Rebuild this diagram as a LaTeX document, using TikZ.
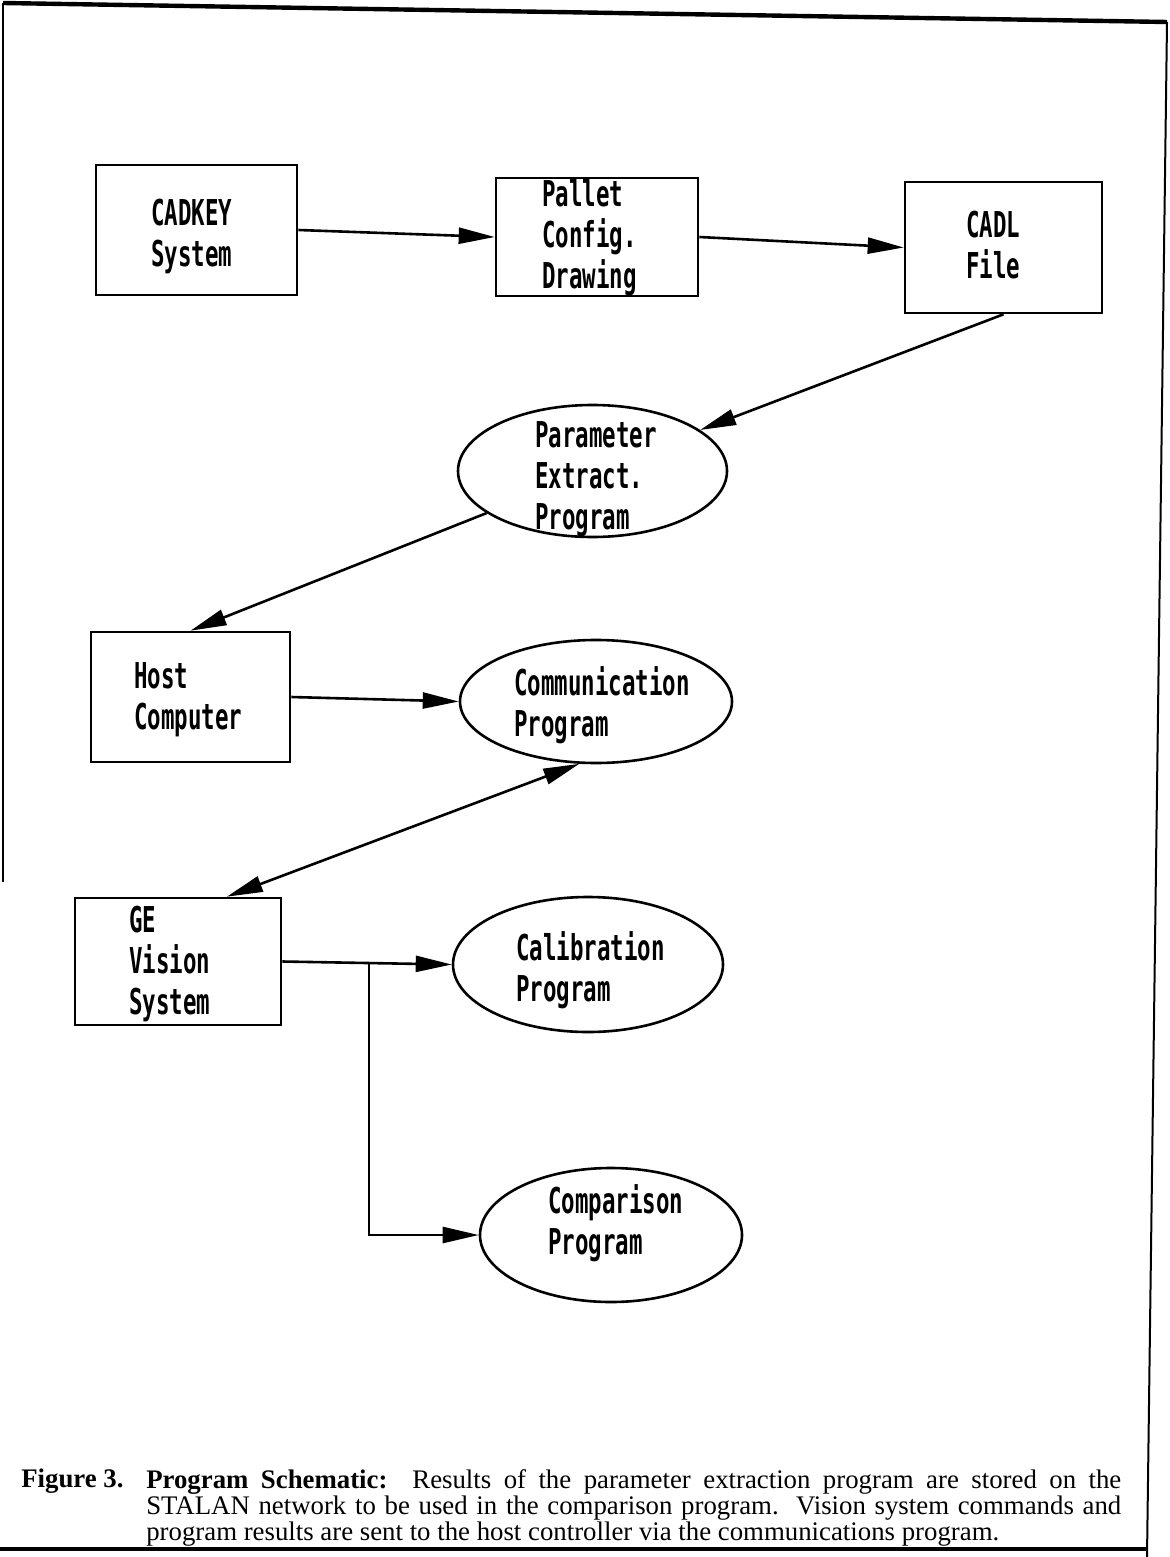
\documentclass[tikz,border=0pt]{standalone}
\usepackage{fontspec}
\setmainfont{Liberation Serif}
\newfontfamily\plotfont[FakeStretch=0.63]{DejaVu Sans Mono}
\usetikzlibrary{shapes.geometric,arrows.meta}

\begin{document}
\begin{tikzpicture}[x=0.5pt,y=-0.5pt,line width=1.3pt,box/.style={draw,rectangle,inner sep=0pt},oval/.style={draw,ellipse,inner sep=0pt},lbl/.style={anchor=north west,align=left,inner sep=0pt,font=\plotfont\bfseries\fontsize{17.8}{20.5}\selectfont},flow/.style={-{Triangle[length=18pt,width=8pt]}}]
\useasboundingbox (0,0) rectangle (1169,1557);
% frame of the page
\draw[line width=1pt] (3,3) -- (3,882);
\draw[line width=2.2pt] (3,3) -- (1167,22);
\draw[line width=1pt] (1167,22) -- (1147,1557);
\draw[line width=1.6pt] (0,1549) -- (1147,1549);
% blocks
\node[box,minimum width=100.5pt,minimum height=65pt] (cadkey) at (196.5,230) {};
\node[box,minimum width=101pt,minimum height=59pt] (pallet) at (597,237) {};
\node[box,minimum width=98.5pt,minimum height=65.5pt] (cadl) at (1003.5,247.5) {};
\node[oval,minimum width=134.5pt,minimum height=66pt] (param) at (592.5,471) {};
\node[box,minimum width=99.5pt,minimum height=65pt] (host) at (190.5,697) {};
\node[oval,minimum width=136pt,minimum height=61.5pt] (comm) at (596,701.5) {};
\node[box,minimum width=103pt,minimum height=63.5pt] (ge) at (178,961.5) {};
\node[oval,minimum width=135pt,minimum height=67.5pt] (calib) at (588,964.5) {};
\node[oval,minimum width=131pt,minimum height=67pt] (compar) at (611,1235) {};
% texts
\node[lbl] (cadkey-t) at (150,198) {CADKEY\\System};
\node[lbl] (pallet-t) at (541,178) {Pallet\\Config.\\Drawing};
\node[lbl] (cadl-t) at (965,210) {CADL\\File};
\node[lbl] (param-t) at (534,420) {Parameter\\Extract.\\Program};
\node[lbl] (host-t) at (133,661) {Host\\Computer};
\node[lbl] (comm-t) at (513,665) {Communication\\Program};
\node[lbl] (ge-t) at (128,905) {GE\\Vision\\System};
\node[lbl] (calib-t) at (515,930) {Calibration\\Program};
\node[lbl] (compar-t) at (547,1183) {Comparison\\Program};
% connections
\draw[flow] (cadkey.east) -- (pallet.west);
\draw[flow] (pallet.east) -- (cadl.west);
\draw[flow] (cadl.south) -- (param);
\draw[flow] (param) -- (host.north);
\draw[flow] (host.east) -- (comm.west);
\draw[{Triangle[length=18pt,width=8pt]}-{Triangle[length=18pt,width=8pt]}] (comm.255) -- (ge.53);
\draw[flow] (ge.east) -- (calib.west);
\coordinate (split) at (369,963);
\draw[flow] (split) |- (compar.west);
% caption
\node[anchor=base west,inner sep=0pt,font=\fontsize{13.4}{13.2}\selectfont\bfseries] (fig) at (20,1487) {Figure 3.};
\node[anchor=north west,inner sep=0pt,text width=487.5pt,align=justify,font=\fontsize{13.4}{13.2}\selectfont] (caption) at (145,1468) {\textbf{Program Schematic:}\ \ Results of the parameter extraction program are stored on the\linebreak STALAN network to be used in the comparison program.\ \ Vision system commands and\linebreak program results are sent to the host controller via the communications program.};
\end{tikzpicture}
\end{document}
